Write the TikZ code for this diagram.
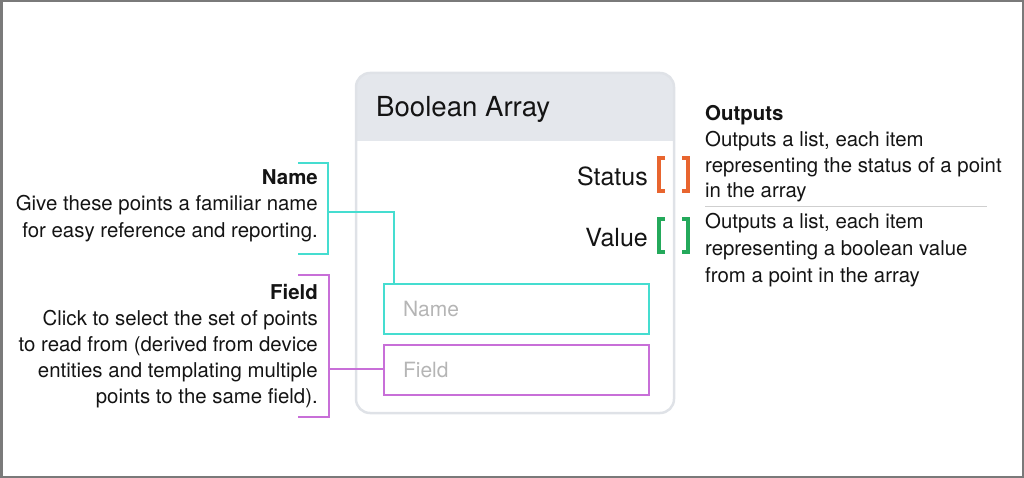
\documentclass[tikz,border=0pt]{standalone}
\usepackage{fontspec}
\setmainfont{TeX Gyre Heros}
\definecolor{framegray}{HTML}{7A7A7A}
\definecolor{cardborder}{HTML}{DFE2E7}
\definecolor{headgray}{HTML}{E4E7EC}
\definecolor{cyanc}{HTML}{45DDD0}
\definecolor{purplec}{HTML}{C86FD8}
\definecolor{orangec}{HTML}{E8652F}
\definecolor{greenc}{HTML}{24A95B}
\definecolor{placegray}{HTML}{B5B5B5}
\definecolor{divgray}{HTML}{CFCFCF}
\definecolor{inkc}{HTML}{141414}
\begin{document}
\begin{tikzpicture}[x=1pt,y=-1pt,
  body/.style={inner sep=0pt, text=inkc, font=\fontsize{20.4}{24}\selectfont},
  bodytitle/.style={body, font=\fontsize{20.4}{24}\selectfont\bfseries},
  port/.style={inner sep=0pt, text=inkc, font=\fontsize{25}{30}\selectfont, anchor=base east},
  fieldbox/.style={draw, line width=2pt, minimum width=265pt, minimum height=50pt,
    anchor=north west, inner sep=0pt, text width=227pt, align=left,
    text=placegray, font=\fontsize{21}{24}\selectfont},
  brk/.style={line width=3.6pt, line cap=butt, line join=miter},
  leader/.style={line width=2pt}
]
\useasboundingbox (0,0) rectangle (1024,478);
\draw[framegray, line width=2.5pt] (1.25,1.25) rectangle (1022.75,476.75);

% card
\begin{scope}
  \clip[rounded corners=14pt] (356,73) rectangle (674,413);
  \fill[headgray] (356,73) rectangle (674,141);
\end{scope}
\draw[cardborder, line width=2.5pt, rounded corners=14pt] (356,73) rectangle (674,413);
\node[inner sep=0pt, anchor=base west, text=inkc, font=\fontsize{27.6}{30}\selectfont] (title) at (376,117) {Boolean Array};

% ports
\node[port] (status) at (648,186) {Status};
\node[port] (value) at (648,247) {Value};
\draw[brk, orangec] (665,158) -- (659,158) -- (659,191) -- (665,191);
\draw[brk, orangec] (682,158) -- (688,158) -- (688,191) -- (682,191);
\draw[brk, greenc] (665,219) -- (659,219) -- (659,252) -- (665,252);
\draw[brk, greenc] (682,219) -- (688,219) -- (688,252) -- (682,252);

% fields
\node[fieldbox, draw=cyanc] (namefield) at (383,283) {Name};
\node[fieldbox, draw=purplec] (fieldfield) at (383,344) {Field};

% outputs description
\node[bodytitle, anchor=base west] (outt) at (705,121) {Outputs};
\node[body, anchor=base west] (o1) at (705,147) {Outputs a list, each item};
\node[body, anchor=base west] (o2) at (705,172.5) {representing the status of a point};
\node[body, anchor=base west] (o3) at (705,198) {in the array};
\draw[divgray, line width=1pt] (705,207) -- (987,207);
\node[body, anchor=base west] (v1) at (705,229) {Outputs a list, each item};
\node[body, anchor=base west] (v2) at (705,255.5) {representing a boolean value};
\node[body, anchor=base west] (v3) at (705,282) {from a point in the array};

% name description
\node[bodytitle, anchor=base east] (namet) at (318,185) {Name};
\node[body, anchor=base east] (n1) at (318,211) {Give these points a familiar name};
\node[body, anchor=base east] (n2) at (318,237) {for easy reference and reporting.};
\draw[leader, cyanc] (298,163) -- (328,163) -- (328,254) -- (298,254);
\coordinate (namejoin) at (328,212);
\coordinate (namedrop) at (394,283);
\draw[leader, cyanc] (namejoin) -| (namedrop);

% field description
\node[bodytitle, anchor=base east] (fieldt) at (318,299) {Field};
\node[body, anchor=base east] (f1) at (318,325) {Click to select the set of points};
\node[body, anchor=base east] (f2) at (318,351) {to read from (derived from device};
\node[body, anchor=base east] (f3) at (318,377) {entities and templating multiple};
\node[body, anchor=base east] (f4) at (318,403) {points to the same field).};
\draw[leader, purplec] (298,275) -- (329,275) -- (329,417) -- (298,417);
\coordinate (fieldjoin) at (329,369);
\draw[leader, purplec] (fieldjoin) -- (fieldjoin -| fieldfield.west);
\end{tikzpicture}
\end{document}
